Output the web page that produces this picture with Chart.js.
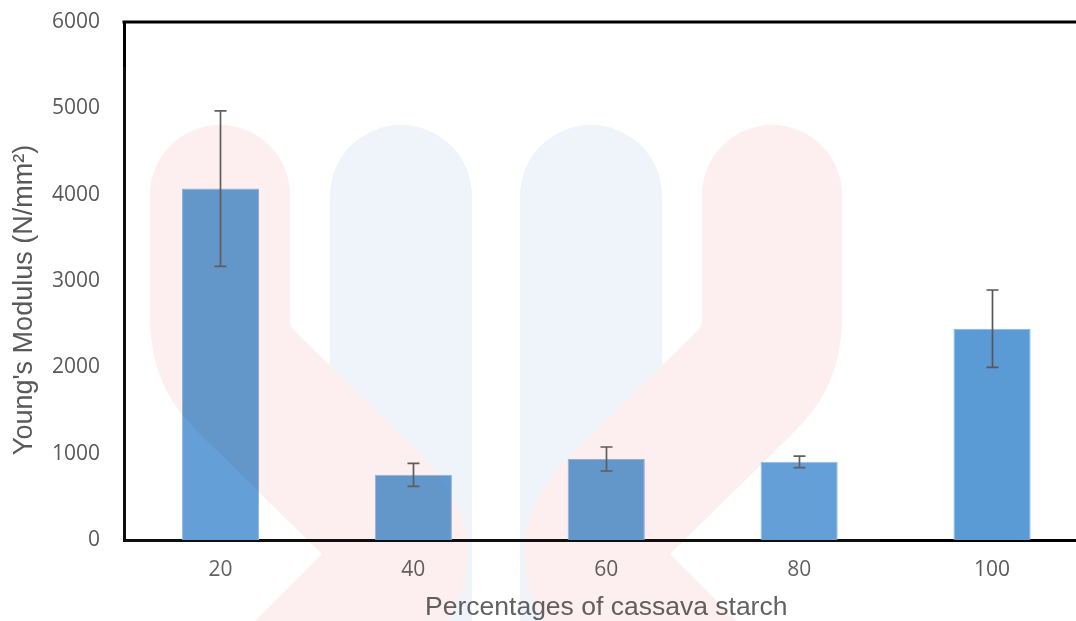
<!DOCTYPE html>
<html>
<head>
<meta charset="utf-8">
<script src="https://cdn.jsdelivr.net/npm/chart.js@4.4.1/dist/chart.umd.min.js"></script>
<style>
  html, body { margin: 0; padding: 0; background: #ffffff; overflow: hidden; }
  #wrap { position: absolute; left: 0; top: 0; width: 1100px; height: 621px; }
</style>
</head>
<body>
<div id="wrap"><canvas id="c"></canvas></div>
<script>
// Young's modulus of the films by cassava starch share
const categories = ['20', '40', '60', '80', '100'];
const modulus = [4070, 755, 938, 905, 2448];
const modulusErr = [900, 133, 139, 66, 448];
const yTicks = [0, 1000, 2000, 3000, 4000, 5000, 6000];

const xTitle = 'Percentages of cassava starch';
const yTitle = "Young's Modulus (N/mm\u00B2)";

const TEXT = '#595959';

// whiskers: mean +/- one error value, with short caps
const errorBars = {
  id: 'errorBars',
  afterDatasetsDraw(chart) {
    const { ctx } = chart;
    const y = chart.scales.y;
    const meta = chart.getDatasetMeta(0);
    ctx.save();
    ctx.strokeStyle = '#575757';
    ctx.lineWidth = 1.7;
    meta.data.forEach((bar, i) => {
      const v = modulus[i], e = modulusErr[i];
      const cx = Math.round(bar.x) + 0.5;
      const yt = y.getPixelForValue(v + e);
      const yb = y.getPixelForValue(v - e);
      ctx.beginPath();
      ctx.moveTo(cx, yt); ctx.lineTo(cx, yb);
      ctx.moveTo(cx - 6, yt); ctx.lineTo(cx + 6, yt);
      ctx.moveTo(cx - 6, yb); ctx.lineTo(cx + 6, yb);
      ctx.stroke();
    });
    ctx.restore();
  }
};

// top frame line and rotated value-axis title
const frame = {
  id: 'frame',
  afterDraw(chart) {
    const { ctx, chartArea } = chart;
    ctx.save();
    ctx.strokeStyle = '#000000';
    ctx.lineWidth = 3;
    ctx.beginPath();
    ctx.moveTo(chartArea.left - 1.5, chartArea.top);
    ctx.lineTo(chart.width, chartArea.top);
    ctx.stroke();

    ctx.translate(25, 300);
    ctx.rotate(-Math.PI / 2);
    ctx.fillStyle = TEXT;
    ctx.font = '27px "Liberation Sans", Arial, sans-serif';
    ctx.textAlign = 'center';
    ctx.textBaseline = 'middle';
    ctx.fillText(yTitle, 0, 0);
    ctx.restore();
  }
};

// faint publisher logo laid over the figure (multiplied in, then a light veil)
const logo = {
  id: 'logo',
  afterDraw(chart) {
    const { ctx } = chart;
    const w = chart.width, h = chart.height;

    const off = document.createElement('canvas');
    off.width = w; off.height = h;
    const o = off.getContext('2d');
    o.fillStyle = '#ffffff';
    o.fillRect(0, 0, w, h);
    o.lineCap = 'round';
    o.lineJoin = 'round';

    o.strokeStyle = 'rgb(238,244,250)';
    o.lineWidth = 142;
    o.beginPath();
    o.moveTo(401, 196); o.lineTo(401, 760);
    o.moveTo(591, 196); o.lineTo(591, 760);
    o.stroke();

    const pinkPath = (m) => {
      const X = (x) => m ? 992 - x : x;
      o.moveTo(X(220), 195);
      o.lineTo(X(220), 315);
      o.bezierCurveTo(X(220), 355, X(232), 368, X(258), 393);
      o.lineTo(X(375), 508);
      o.quadraticCurveTo(X(420), 553, X(378), 597);
      o.lineTo(X(280), 695);
    };
    o.strokeStyle = 'rgb(253,239,239)';
    o.lineWidth = 140;
    o.beginPath();
    pinkPath(false);
    pinkPath(true);
    o.stroke();

    ctx.save();
    ctx.globalCompositeOperation = 'multiply';
    ctx.drawImage(off, 0, 0, w, h);
    ctx.globalCompositeOperation = 'source-over';
    ctx.fillStyle = 'rgba(255,255,255,0.06)';
    ctx.fillRect(121, 67, 759, h - 67);
    ctx.restore();
  }
};

new Chart(document.getElementById('c'), {
  type: 'bar',
  data: {
    labels: categories,
    datasets: [{
      data: modulus,
      backgroundColor: '#5B9BD5',
      borderColor: '#8DB6E2',
      borderWidth: 1,
      barPercentage: 0.4,
      categoryPercentage: 1.0
    }]
  },
  options: {
    responsive: true,
    maintainAspectRatio: false,
    animation: false,
    devicePixelRatio: 1,
    layout: { padding: { left: 0, right: 11.5, top: 22, bottom: 0 } },
    plugins: {
      legend: { display: false },
      tooltip: { enabled: false },
      title: { display: false }
    },
    scales: {
      x: {
        grid: { display: false, drawTicks: false },
        border: { display: true, color: '#000000', width: 3 },
        ticks: {
          color: TEXT,
          padding: 17,
          font: { family: '"Open Sans", sans-serif', size: 21 }
        },
        title: {
          display: true,
          text: xTitle,
          color: TEXT,
          padding: { top: 0, bottom: 0 },
          font: { family: '"Liberation Sans", Arial, sans-serif', size: 26.5, lineHeight: 1 }
        },
        afterFit(s) { s.height = 81; s.paddingLeft = 0; s.paddingRight = 0; }
      },
      y: {
        min: 0,
        max: 6000,
        grid: { display: false, drawTicks: false },
        border: { display: true, color: '#000000', width: 3 },
        ticks: {
          color: TEXT,
          padding: 24,
          font: { family: '"Open Sans", sans-serif', size: 21 },
          callback: (v) => String(v)
        },
        afterBuildTicks(s) { s.ticks = yTicks.map(v => ({ value: v })); },
        afterFit(s) { s.width = 124; s.paddingTop = 0; s.paddingBottom = 0; }
      }
    }
  },
  plugins: [errorBars, frame, logo]
});
</script>
</body>
</html>
